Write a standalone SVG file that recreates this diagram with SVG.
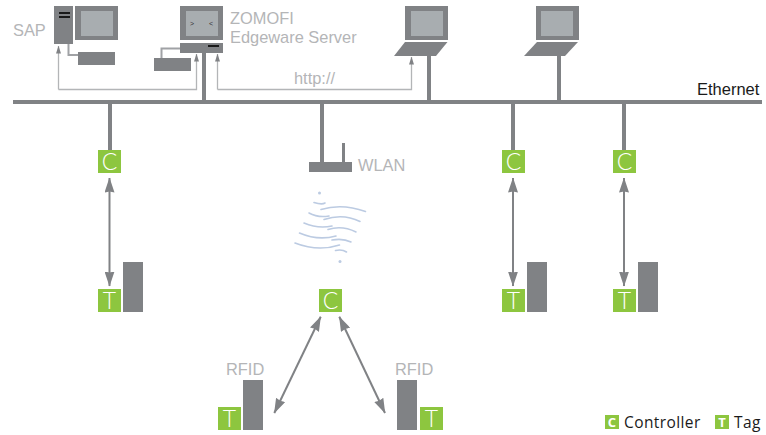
<svg xmlns="http://www.w3.org/2000/svg" width="766" height="435" viewBox="0 0 766 435">
<style>
.g{fill:#808285}
.s{fill:#a8adb0}
.k{fill:#1a1a1a}
.gr{fill:#8dc63f}
.thin{fill:none;stroke:#b3b5b7;stroke-width:1.3}
.cable{fill:none;stroke:#a0a2a5;stroke-width:2}
.dbl{fill:none;stroke:#808285;stroke-width:2;marker-start:url(#big);marker-end:url(#big)}
.wave{fill:none;stroke:#bccbe2;stroke-width:1.6;stroke-linecap:round}
.lbl{font-family:"Liberation Sans",Arial,sans-serif;font-size:16.4px;fill:#b4b5b7}
.box{font-family:"Lato","Liberation Sans",sans-serif;font-weight:300;font-size:23px;fill:#fff;text-anchor:middle}
.leg{font-family:"Open Sans","Noto Sans",sans-serif;font-size:15.5px;letter-spacing:.4px;fill:#1a1a1a}
.legb{font-family:"Open Sans","Noto Sans",sans-serif;font-weight:700;font-size:13px;fill:#fff;text-anchor:middle}
</style>
<defs>
<marker id="big" viewBox="0 0 15 10" refX="14.500" refY="5" markerUnits="userSpaceOnUse" markerWidth="15" markerHeight="10" orient="auto-start-reverse"><path d="M0 0L15 5L0 10L1 5Z" fill="#808285"/></marker>
<marker id="small" viewBox="0 0 8 5" refX="7.500" refY="2.500" markerUnits="userSpaceOnUse" markerWidth="8" markerHeight="5" orient="auto"><path d="M0 0L8 2.500L0 5Z" fill="#808285"/></marker>
</defs>

<g id="connectors">
<rect class="g" x="13" y="100" width="749" height="4"/>
<rect class="g" x="202" y="53" width="4" height="47"/>
<rect class="g" x="427" y="56" width="4" height="44"/>
<rect class="g" x="557" y="56" width="4" height="44"/>
<rect class="g" x="108" y="104" width="4" height="46"/>
<rect class="g" x="320" y="104" width="4" height="58"/>
<rect class="g" x="511" y="104" width="4" height="46"/>
<rect class="g" x="622" y="104" width="4" height="46"/>
<path class="thin" marker-end="url(#small)" d="M58.500 89.500H196.500V54"/>
<path class="thin" marker-end="url(#small)" d="M58.500 89.500V46"/>
<path class="thin" marker-end="url(#small)" d="M217.500 89.500V54"/>
<path class="thin" marker-end="url(#small)" d="M217.500 89.500H411.500V57"/>
<path class="cable" d="M68.500 44V55H78"/>
<path class="cable" d="M180 48.500H161.500V58"/>
<path class="dbl" d="M109.500 178V286"/>
<path class="dbl" d="M513 178V286"/>
<path class="dbl" d="M624 178V286"/>
<path class="dbl" d="M320.700 316.700L274.300 413"/>
<path class="dbl" d="M339.300 316.700L385 413"/>
</g>

<g id="sap">
<rect class="g" x="54" y="6" width="19" height="38"/>
<rect class="k" x="59" y="12" width="11" height="2"/>
<rect class="k" x="59" y="16" width="11" height="2"/>
<rect class="g" x="75" y="6" width="43" height="34"/>
<rect class="s" x="81" y="11" width="32" height="25"/>
<rect class="g" x="78" y="52" width="37" height="13"/>
<text class="lbl" x="13" y="36">SAP</text>
</g>

<g id="zomofi">
<rect class="g" x="180" y="6" width="43" height="34"/>
<rect class="s" x="186" y="11" width="32" height="25"/>
<text x="192" y="26" font-family="Liberation Sans,sans-serif" font-size="7" fill="#333" text-anchor="middle">&gt;</text>
<text x="211" y="26" font-family="Liberation Sans,sans-serif" font-size="7" fill="#333" text-anchor="middle">&lt;</text>
<rect class="g" x="180" y="43" width="43" height="10"/>
<rect class="k" x="208" y="45" width="11" height="2"/>
<rect class="g" x="154" y="58" width="37" height="13"/>
<text class="lbl" x="230" y="24">ZOMOFI</text>
<text class="lbl" x="230" y="43">Edgeware Server</text>
</g>

<text id="http" class="lbl" x="294" y="84">http://</text>

<g id="laptop1">
<rect class="g" x="405" y="6" width="43" height="34"/>
<rect class="s" x="411" y="11" width="32" height="25"/>
<path class="g" d="M405 42H447.500L436 56H394Z"/>
</g>

<g id="laptop2">
<rect class="g" x="536" y="6" width="43" height="34"/>
<rect class="s" x="541" y="11" width="32" height="25"/>
<path class="g" d="M537 42H578L565 56H524Z"/>
</g>

<text id="ethernet" x="697" y="95" font-family="Liberation Sans,Arial,sans-serif" font-size="16.500" fill="#1a1a1a">Ethernet</text>

<g id="c1"><rect class="gr" x="98" y="150" width="23" height="23"/><text class="box" x="109.500" y="170">C</text></g>
<g id="t1"><rect class="gr" x="98" y="289" width="23" height="23"/><text class="box" x="109.500" y="309">T</text><rect class="g" x="123" y="262" width="20" height="50"/></g>

<g id="wlan">
<rect class="g" x="342" y="143" width="3" height="19"/>
<rect class="g" x="309" y="162" width="43" height="10"/>
<text class="lbl" x="358" y="171">WLAN</text>
</g>

<g id="waves">
<circle cx="319.500" cy="193" r="1.500" fill="#bccbe2"/>
<circle cx="340" cy="261.500" r="1.500" fill="#bccbe2"/>
<path class="wave" d="M314 202.500Q322 205 325 203"/>
<path class="wave" d="M321 209.500Q342 203 365.500 211.500"/>
<path class="wave" d="M309 213Q318 218 329 216"/>
<path class="wave" d="M324 219.500Q343 213 360 221.500"/>
<path class="wave" d="M304 223Q318 229 332 226"/>
<path class="wave" d="M328 229.500Q342 225 356 232"/>
<path class="wave" d="M299.500 233Q318 241 336 236"/>
<path class="wave" d="M332 240Q343 238 351 242"/>
<path class="wave" d="M295 243Q318 252 339.500 245"/>
<path class="wave" d="M335.500 250.500Q342 249 346.500 252"/>
</g>

<g id="c2"><rect class="gr" x="502" y="150" width="23" height="23"/><text class="box" x="513.500" y="170">C</text></g>
<g id="t2"><rect class="gr" x="502" y="289" width="23" height="23"/><text class="box" x="513.500" y="309">T</text><rect class="g" x="527" y="262" width="20" height="50"/></g>
<g id="c3"><rect class="gr" x="613" y="150" width="23" height="23"/><text class="box" x="624.500" y="170">C</text></g>
<g id="t3"><rect class="gr" x="613" y="289" width="23" height="23"/><text class="box" x="624.500" y="309">T</text><rect class="g" x="638" y="262" width="20" height="50"/></g>

<g id="c4"><rect class="gr" x="319" y="289" width="23" height="23"/><text class="box" x="330.500" y="309">C</text></g>
<g id="t4"><rect class="gr" x="218" y="407" width="23" height="23"/><text class="box" x="229.500" y="427">T</text><rect class="g" x="243" y="380" width="20" height="50"/><text class="lbl" x="226" y="375">RFID</text></g>
<g id="t5"><rect class="gr" x="420" y="407" width="23" height="23"/><text class="box" x="431.500" y="427">T</text><rect class="g" x="397" y="380" width="20" height="50"/><text class="lbl" x="395" y="375">RFID</text></g>

<g id="legend">
<rect class="gr" x="605" y="415" width="14" height="14"/><text class="legb" x="612" y="427">C</text>
<text class="leg" x="624" y="428">Controller</text>
<rect class="gr" x="715" y="415" width="14" height="14"/><text class="legb" x="722" y="427">T</text>
<text class="leg" x="734" y="428">Tag</text>
</g>
</svg>
